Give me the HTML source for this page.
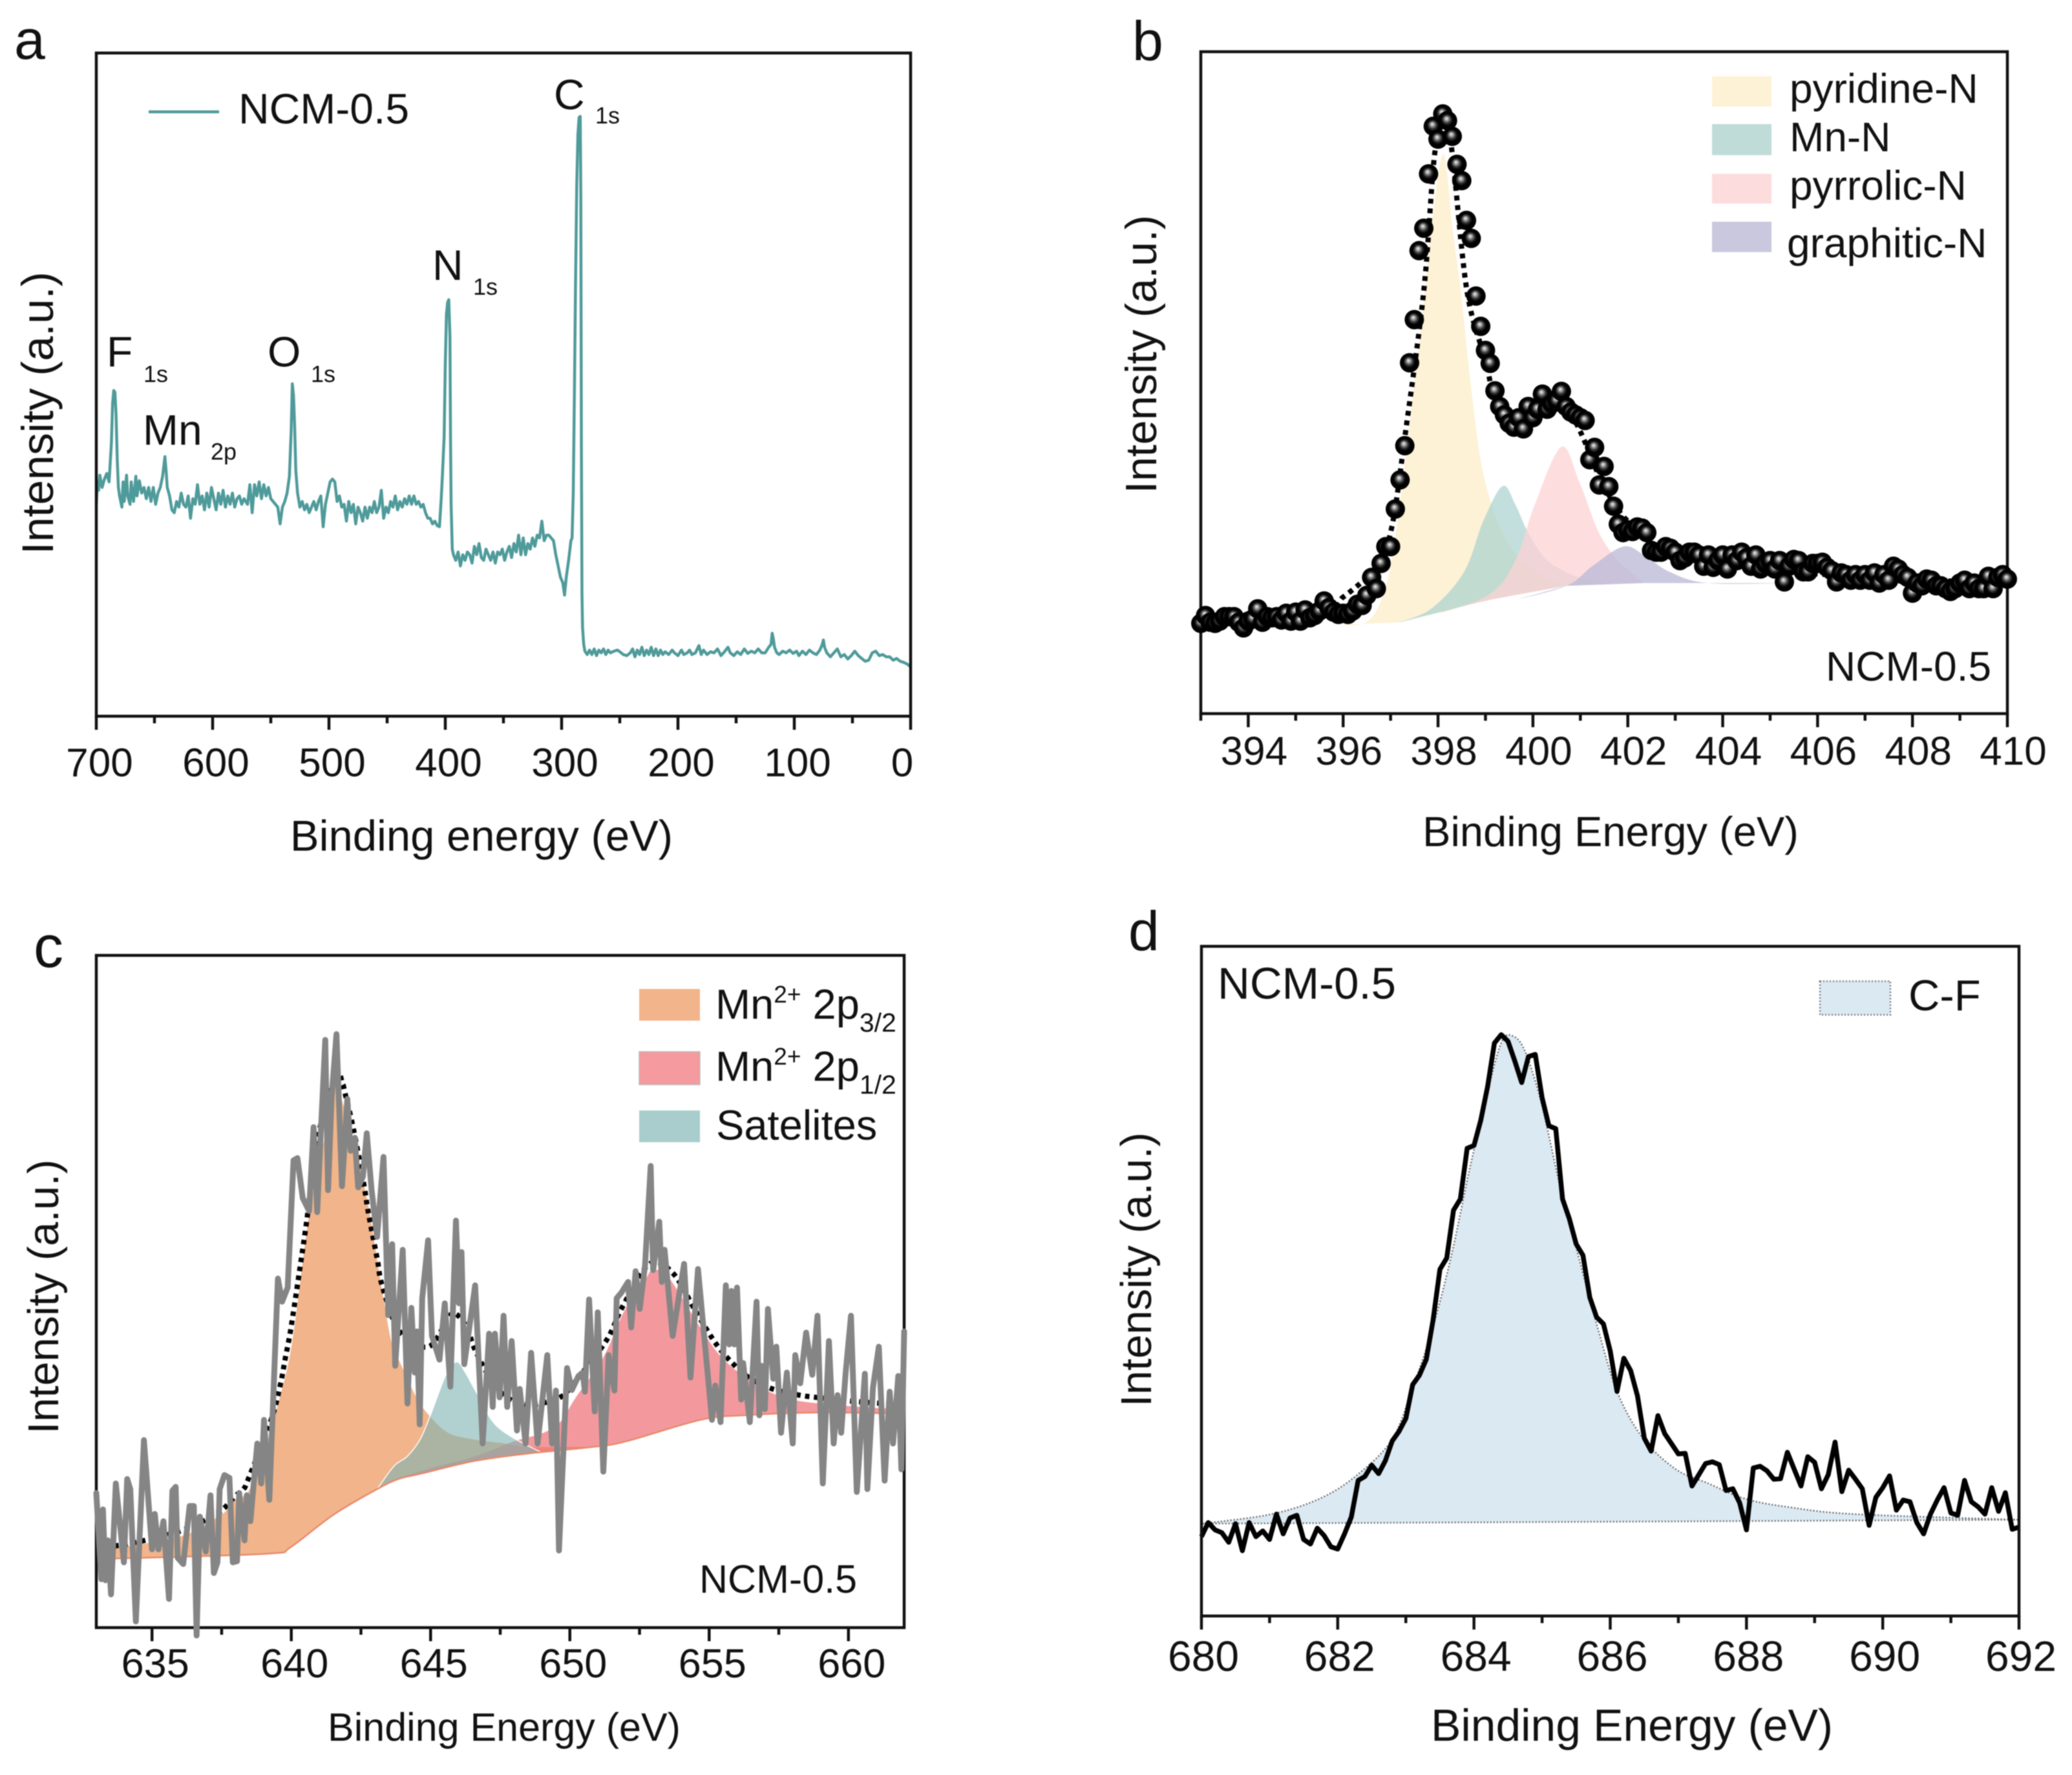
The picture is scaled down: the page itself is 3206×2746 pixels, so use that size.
<!DOCTYPE html>
<html lang="en">
<head>
<meta charset="utf-8">
<title>XPS spectra of NCM-0.5</title>
<style>
html,body{margin:0;padding:0;background:#fff;}
svg{display:block;filter:blur(0.7px);}
text{font-family:"Liberation Sans",Arial,sans-serif;fill:#111;}
</style>
</head>
<body>
<svg id="figure" xmlns="http://www.w3.org/2000/svg" width="3206" height="2746" viewBox="0 0 3206 2746">
  <defs>
    <radialGradient id="sphere" cx="50%" cy="50%" r="50%" fx="44%" fy="38%">
      <stop offset="0%" stop-color="#f2f2f2"/>
      <stop offset="16%" stop-color="#b0b0b0"/>
      <stop offset="42%" stop-color="#333"/>
      <stop offset="62%" stop-color="#000"/>
      <stop offset="100%" stop-color="#000"/>
    </radialGradient>
  </defs>
  <rect x="0" y="0" width="3206" height="2746" fill="#fff"/>
  <g id="layer-a"></g>
  <g id="layer-b"></g>
  <g id="layer-c"></g>
  <g id="layer-d"></g>

  <!-- panel letters -->
  <text x="22" y="91" font-size="86">a</text>
  <text x="1752" y="93" font-size="86">b</text>
  <text x="52" y="1496" font-size="92">c</text>
  <text x="1746" y="1470" font-size="86">d</text>

  <!-- panel a text -->
  <text x="745" y="1316" font-size="67" text-anchor="middle">Binding energy (eV)</text>
  <text transform="translate(82,639) rotate(-90)" font-size="69" text-anchor="middle">Intensity (a.u.)</text>
  <line x1="230" y1="173" x2="339" y2="173" stroke="#4f9a9a" stroke-width="4.5"/>
  <text x="369" y="191" font-size="66">NCM-0.5</text>
  <text x="857" y="169" font-size="66">C</text>
  <text x="921" y="191" font-size="36">1s</text>
  <text x="669" y="433" font-size="66">N</text>
  <text x="732" y="456" font-size="36">1s</text>
  <text x="414" y="567" font-size="66">O</text>
  <text x="481" y="591" font-size="36">1s</text>
  <text x="165" y="567" font-size="66">F</text>
  <text x="222" y="591" font-size="36">1s</text>
  <text x="221" y="688" font-size="66">Mn</text>
  <text x="326" y="711" font-size="36">2p</text>

  <!-- panel b text -->
  <text x="2492" y="1309" font-size="65" text-anchor="middle">Binding Energy (eV)</text>
  <text transform="translate(1789,548) rotate(-90)" font-size="68" text-anchor="middle">Intensity (a.u.)</text>
  <rect x="2649" y="118" width="92" height="47" fill="#fdf2d6"/>
  <rect x="2649" y="192" width="92" height="48" fill="#c0dcd9"/>
  <rect x="2649" y="269" width="92" height="46" fill="#fddcdd"/>
  <rect x="2649" y="343" width="92" height="47" fill="#c9c8de"/>
  <text x="2769" y="159" font-size="64">pyridine-N</text>
  <text x="2769" y="234" font-size="64">Mn-N</text>
  <text x="2769" y="309" font-size="64">pyrrolic-N</text>
  <text x="2765" y="398" font-size="64">graphitic-N</text>
  <text x="2825" y="1053" font-size="64">NCM-0.5</text>

  <!-- panel c text -->
  <text x="780" y="2693" font-size="61" text-anchor="middle">Binding Energy (eV)</text>
  <text transform="translate(90,2006) rotate(-90)" font-size="67" text-anchor="middle">Intensity (a.u.)</text>
  <rect x="989" y="1530" width="94" height="49" fill="#f2b48a"/>
  <rect x="989" y="1627" width="94" height="51" fill="#f59a9e" stroke="#bbb" stroke-width="1.5"/>
  <rect x="989" y="1718" width="94" height="49" fill="#a8cdcc"/>
  <text x="1107" y="1576" font-size="65">Mn<tspan font-size="37" dy="-25">2+</tspan><tspan dy="25"> 2p</tspan><tspan font-size="41" dy="20">3/2</tspan></text>
  <text x="1107" y="1672" font-size="65">Mn<tspan font-size="37" dy="-25">2+</tspan><tspan dy="25"> 2p</tspan><tspan font-size="41" dy="20">1/2</tspan></text>
  <text x="1108" y="1763" font-size="65">Satelites</text>
  <text x="1082" y="2464" font-size="61">NCM-0.5</text>

  <!-- panel d text -->
  <text x="2525" y="2693" font-size="69.5" text-anchor="middle">Binding Energy (eV)</text>
  <text transform="translate(1781,1964) rotate(-90)" font-size="67" text-anchor="middle">Intensity (a.u.)</text>
  <rect x="2816" y="1518" width="109" height="52" fill="#dbe9f3" stroke="#777" stroke-width="2.5" stroke-dasharray="2 3"/>
  <text x="2953" y="1563" font-size="67">C-F</text>
  <text x="1884" y="1545" font-size="69">NCM-0.5</text>
</svg>

<script>
// ---------- Panel a: survey spectrum ----------
const surveyEnergy = [700,699,698,697,695,693,691,689,687,686,685,684,683,682,681,680,678,677,676,674,673,671,670,668,666,665,663,661,659,657,655,653,651,649,647,645,643,641,640,639,637,635,633,631,629,627,625,623,621,619,617,615,613,611,609,607,605,603,601,599,597,595,593,591,589,587,585,583,581,579,577,575,573,570,568,566,564,562,560,558,556,554,552,550,548,546,544,542,540,538,536,534,532.5,531.5,530.5,529.5,528.5,527,525,523,521,519,517,515,513,511,509,507,505,503,501,499,497,495,493,491,489,487,485,483,481,479,477,475,473,471,469,467,465,463,461,459,457,455,453,451,449,447,445,443,441,439,437,435,433,431,429,427,425,423,421,419,417,415,413,411,409,407,405,403.5,402.5,401,400,399,398,397,396,395.5,395,394,393,391,389,387,385,383,381,379,377,375,373,371,369,367,365,363,361,359,357,355,353,351,349,347,345,343,341,339,337,335,333,331,329,327,325,323,321,319,317,315,313,311,309,307,305,303,301,299,297.5,296,294,292,291,290,289,288,287,286,285,284,283.5,283,282.5,282,281,280,278,276,274,272,270,268,266,264,262,260,258,255,252,250,247,244,241,239,237,235,233,231,229,227,225,223,221,219,217,215,213,211,208,205,203,200,197,195,192,190,188,185,182,180,178,175,172,169,166,163,160,157,155,152,149,146,143,140,137,134,131,128,125,122,120,119,118,117,115,113,110,107,104,101,98,96,93,90,87,84,81,78,76,75,74,72,69,66,63,60,57,54,51,48,45,42,39,36,33,30,27,24,21,18,15,12,9,6,3,0];
const surveyIntensity = [378,418,403,430,408,423,433,418,488,558,581,578,538,458,408,393,373,418,383,430,393,378,418,383,428,393,420,398,408,388,408,383,408,378,398,408,428,463,438,408,393,368,363,383,373,398,378,373,393,353,388,378,413,378,393,368,398,373,408,388,368,398,378,403,373,393,378,398,373,388,393,378,388,378,413,363,413,393,418,388,413,393,408,388,383,378,373,343,373,383,398,428,508,593,573,518,438,398,373,383,368,378,363,373,383,368,383,393,338,378,398,418,423,418,383,393,373,378,348,383,363,378,343,373,363,348,373,353,373,363,383,363,373,403,353,373,363,383,373,393,368,383,373,388,378,393,378,393,378,383,373,378,363,353,353,343,348,340,338,388,428,498,628,718,738,743,678,498,378,298,288,278,293,268,288,278,293,288,273,303,288,308,283,278,298,288,278,293,273,293,288,298,278,293,303,283,308,293,323,288,318,288,308,298,318,303,323,318,348,313,323,323,318,313,288,268,248,238,216,248,278,313,318,398,578,778,948,1038,1068,1070,928,478,218,158,128,116,110,118,110,120,108,118,113,120,110,118,113,116,118,115,110,108,113,120,106,118,110,123,108,118,110,123,108,120,108,118,110,115,110,118,113,108,118,110,113,118,110,113,126,110,118,110,115,113,120,108,115,123,113,108,115,110,120,112,116,113,120,113,113,123,128,148,138,123,113,110,116,113,118,112,116,108,116,110,118,113,110,118,128,136,123,113,106,113,120,106,110,102,108,116,108,103,98,100,113,116,108,110,106,106,100,103,98,96,93,88];
const surveyTicks = [700,600,500,400,300,200,100,0];
const surveyMinorTicks = [650,550,450,350,250,150,50];

// ---------- Panel b: N 1s ----------
const n1sEnergy = [393,393.1,393.2,393.3,393.4,393.5,393.6,393.7,393.8,393.9,394,394.1,394.2,394.3,394.4,394.5,394.6,394.7,394.8,394.9,395,395.1,395.2,395.3,395.4,395.5,395.6,395.7,395.8,395.9,396,396.1,396.2,396.3,396.4,396.5,396.6,396.7,396.8,396.9,397,397.1,397.2,397.3,397.4,397.5,397.6,397.7,397.8,397.9,398,398.1,398.2,398.3,398.4,398.5,398.6,398.7,398.8,398.9,399,399.1,399.2,399.3,399.4,399.5,399.6,399.7,399.8,399.9,400,400.1,400.2,400.3,400.4,400.5,400.6,400.7,400.8,400.9,401,401.1,401.2,401.3,401.4,401.5,401.6,401.7,401.8,401.9,402,402.1,402.2,402.3,402.4,402.5,402.6,402.7,402.8,402.9,403,403.1,403.2,403.3,403.4,403.5,403.6,403.7,403.8,403.9,404,404.1,404.2,404.3,404.4,404.5,404.6,404.7,404.8,404.9,405,405.1,405.2,405.3,405.4,405.5,405.6,405.7,405.8,405.9,406,406.1,406.2,406.3,406.4,406.5,406.6,406.7,406.8,406.9,407,407.1,407.2,407.3,407.4,407.5,407.6,407.7,407.8,407.9,408,408.1,408.2,408.3,408.4,408.5,408.6,408.7,408.8,408.9,409,409.1,409.2,409.3,409.4,409.5,409.6,409.7,409.8,409.9,410];
const n1sIntensity = [161,175,163,161,165,173,173,173,163,153,165,169,187,163,173,171,173,167,179,165,181,165,185,171,175,183,201,189,181,177,179,177,183,195,193,211,243,223,268,298,298,365,417,478,626,703,826,866,963,1048,1025,1070,1058,1030,980,951,880,848,745,691,648,625,576,548,533,518,511,528,508,548,528,543,570,543,553,558,575,548,538,533,528,523,453,475,408,441,405,370,338,323,328,325,333,331,323,291,288,288,298,295,288,273,278,288,288,283,263,283,261,273,283,258,283,273,288,278,263,283,258,268,273,258,273,235,263,275,273,253,253,268,268,270,261,255,235,251,248,238,248,238,248,238,251,233,248,238,263,258,248,243,215,233,228,240,238,228,228,223,218,223,233,238,223,233,223,223,245,223,243,248,240];
const n1sFitEnergy = [393,395.6,396,396.5,396.8,397.05,397.3,397.7,397.93,398.15,398.3,398.61,399,399.2,399.6,400.2,400.6,401,401.4,401.8,402.2,402.7,403.7,405,407,410];
const n1sFitIntensity = [163,188,208,243,273,343,493,754,999,1060,999,754,630,563,523,548,563,503,423,363,328,293,273,258,243,233];
const n1sBaseEnergy = [395.84,397.2,398.14,399.09,400.71,402.34,405.45];
const n1sBaseIntensity = [158,163,183,203,228,233,233];
const pyridineEnergy = [395.84,396.52,396.92,397.19,397.6,397.85,398.11,398.3,398.48,398.7,398.95,399.36,399.9,400.71];
const pyridineIntensity = [158,165,233,373,660,860,999,870,754,580,430,323,263,228];
const mnNEnergy = [397.19,397.87,398.55,398.95,399.36,399.63,399.9,400.31,400.98,401.66];
const mnNIntensity = [163,188,253,343,406,373,323,273,243,233];
const pyrrolicEnergy = [398.01,399.09,399.63,400.04,400.6,400.98,401.39,401.8,402.34];
const pyrrolicIntensity = [178,213,273,373,476,413,323,273,233];
const graphiticEnergy = [399.63,400.71,401.25,401.9,402.34,402.88,403.69,405.45];
const graphiticIntensity = [203,228,263,298,283,253,233,233];
const n1sTicks = [394,396,398,400,402,404,406,408,410];
const n1sMinorTicks = [393,395,397,399,401,403,405,407,409];

// ---------- Panel c: Mn 2p ----------
const mn2pEnergy = [633,633.18,633.24,633.33,633.41,633.53,633.7,633.99,634.11,634.22,634.42,634.71,635,635.1,635.23,635.41,635.61,635.73,635.85,635.92,636.12,636.35,636.5,636.6,636.72,636.93,637.1,637.22,637.35,637.43,637.6,637.78,637.9,638.05,638.13,638.32,638.4,638.53,638.78,638.92,639.02,639.21,639.52,639.67,639.87,640.08,640.22,640.41,640.64,640.8,640.93,641.07,641.22,641.32,641.45,641.62,641.82,642.01,642.13,642.28,642.4,642.57,642.71,642.88,643.08,643.31,643.48,643.62,643.73,644,644.17,644.31,644.43,644.51,644.61,644.7,644.91,645.05,645.32,645.51,645.71,645.91,646.02,646.11,646.21,646.6,646.87,647.1,647.23,647.31,647.48,647.62,647.75,647.91,648.1,648.2,648.41,648.61,648.84,649.19,649.36,649.5,649.61,649.9,650.07,650.31,650.46,650.54,650.69,650.89,651,651.2,651.39,651.6,651.68,651.85,652.09,652.2,652.36,652.51,652.7,652.9,652.99,653.21,653.3,653.4,653.69,654.1,654.33,654.6,655.1,655.22,655.41,655.6,655.72,655.8,655.9,656,656.15,656.22,656.46,656.7,656.8,656.88,657,657.11,657.3,657.41,657.58,657.79,658,658.09,658.27,658.48,658.7,658.89,659.08,659.3,659.47,659.61,659.74,659.9,660.09,660.3,660.59,660.68,660.88,661.09,661.3,661.48,661.6,661.79,661.9,662];
const mn2pIntensity = [239,86,210,84,155,59,256,116,264,246,11,333,139,202,139,189,51,243,250,124,113,216,216,-14,197,135,235,97,116,246,271,266,116,118,239,155,235,189,327,256,369,227,620,579,604,830,834,763,740,889,738,889,1044,777,943,1054,784,939,847,870,782,801,878,778,694,836,555,681,465,671,398,568,453,526,361,585,688,518,476,576,428,723,576,667,468,608,327,522,392,522,409,554,392,509,350,424,327,488,327,484,327,421,137,461,422,447,453,419,583,384,560,277,484,421,585,595,614,533,633,566,644,820,635,721,614,671,518,646,444,637,369,430,365,608,503,598,503,604,405,470,365,579,377,465,388,566,442,499,346,453,327,484,434,524,449,554,256,509,327,413,346,453,554,241,451,246,426,499,261,419,327,447,281,526];
const mn2pFitEnergy = [633,634.38,636.16,637.24,637.59,637.97,638.28,638.44,639.25,639.6,639.79,639.98,640.33,640.56,640.95,641.6,641.84,641.92,642.23,642.61,642.77,643.08,643.27,643.89,644.93,645.67,645.94,646.32,646.53,646.9,647.37,647.87,648.41,648.95,649.65,650.11,651.31,651.89,652.86,653.71,654.56,655.29,655.93,656.46,657.27,658.23,658.85,660.4,662];
const mn2pFitIntensity = [141,151,174,200,212,233,246,262,365,430,480,530,645,725,870,981,966,951,886,786,736,656,606,526,499,553,556,532,501,463,426,405,396,398,409,432,510,570,646,629,558,501,465,443,424,413,409,401,396];
const mn2pBaseEnergy = [633.01,636.12,639.36,639.98,641.53,643.08,643.85,644.62,646.58,648.47,650.84,652.03,654.68,656.22,658.93,661.99];
const mn2pBaseIntensity = [122,126,132,143,201,246,264,273,296,309,321,331,369,377,382,380];
const mn32Energy = [633,634.72,636.16,636.9,637.59,637.97,638.51,639.21,639.52,640.02,640.64,641.2,641.59,642.61,643.31,643.62,643.93,644.47,644.93,645.63,646.58,647.53,648.47,649.9,650.84];
const mn32Intensity = [136,149,164,183,204,227,246,342,396,503,733,870,962,786,583,503,468,411,378,346,334,328,321,321,321];
const mn12Energy = [643.26,644.92,646.58,648,649,649.65,650.19,651.2,651.97,652.74,652.94,653.5,654.68,655.45,656.46,657.15,658.16,660.4,662];
const mn12Intensity = [256,282,304,331,345,365,407,480,564,621,633,625,533,480,438,419,403,392,388];
const satEnergy = [643.08,643.69,644.16,644.62,645,645.55,645.94,646.25,646.63,647.25,648,648.95];
const satIntensity = [246,287,304,334,378,449,472,453,419,365,336,312];
const mn2pTicks = [635,640,645,650,655,660];
const mn2pMinorTicks = [637.5,642.5,647.5,652.5,657.5];

// ---------- Panel d: F 1s ----------
const f1sEnergy = [680,680.1,680.2,680.3,680.4,680.5,680.6,680.7,680.8,680.9,681,681.1,681.2,681.3,681.4,681.5,681.6,681.7,681.8,681.9,682,682.1,682.2,682.3,682.4,682.5,682.6,682.7,682.8,682.9,683,683.1,683.2,683.3,683.4,683.5,683.6,683.7,683.8,683.9,684,684.1,684.2,684.3,684.4,684.5,684.6,684.7,684.8,684.9,685,685.1,685.2,685.3,685.4,685.5,685.6,685.7,685.8,685.9,686,686.1,686.2,686.3,686.4,686.5,686.6,686.7,686.8,686.9,687,687.1,687.2,687.3,687.4,687.5,687.6,687.7,687.8,687.9,688,688.1,688.2,688.3,688.4,688.5,688.6,688.7,688.8,688.9,689,689.1,689.2,689.3,689.4,689.5,689.6,689.7,689.8,689.9,690,690.1,690.2,690.3,690.4,690.5,690.6,690.7,690.8,690.9,691,691.1,691.2,691.3,691.4,691.5,691.6,691.7,691.8,691.9,692];
const f1sIntensity = [141,166,153,148,131,164,116,166,141,151,136,181,146,174,179,136,128,156,143,123,119,146,176,241,248,268,253,276,311,328,351,411,428,456,526,616,636,721,741,831,836,881,941,1018,1033,1021,986,948,994,998,921,871,866,741,706,661,641,566,531,519,471,399,458,436,391,316,293,356,324,306,288,289,231,251,271,274,269,223,226,201,153,263,266,258,243,244,291,261,231,283,273,226,251,309,221,259,243,226,161,211,228,249,188,206,203,166,146,181,206,228,183,179,241,203,194,181,228,186,219,154,158];
const cfEnergy = [680,681.03,681.78,682.34,682.81,683.1,683.38,683.66,683.94,684.23,684.41,684.56,684.74,684.98,685.26,685.54,685.83,686.11,686.48,686.96,687.43,687.99,688.65,689.59,692];
const cfIntensity = [164,181,211,256,316,406,506,636,796,946,1021,1031,1006,916,766,636,506,396,316,261,236,208,193,181,171];
const cfBaseEnergy = [680,692];
const cfBaseIntensity = [163,171];
const f1sTicks = [680,682,684,686,688,690,692];
const f1sMinorTicks = [681,683,685,687,689,691];

// ---------- Axis functions ----------
function linearScale(d0, d1, r0, r1) {
  return function (v) { return r0 + (v - d0) / (d1 - d0) * (r1 - r0); };
}
const xA = linearScale(700, 0, 149, 1409);
const yA = linearScale(0, 1183, 1108, 82);
const xB = linearScale(393, 410, 1858, 3106);
const yB = linearScale(0, 1181, 1104, 80);
const xC = linearScale(633, 662, 149, 1399);
const yC = linearScale(0, 1194, 2518, 1478);
const xD = linearScale(680, 692, 1859, 3124);
const yD = linearScale(0, 1190, 2500, 1464);

const SVGNS = 'http://www.w3.org/2000/svg';
function make(parentId, tag, props) {
  const el = document.createElementNS(SVGNS, tag);
  for (const k in props) el.setAttribute(k, props[k]);
  document.getElementById(parentId).appendChild(el);
  return el;
}
function linePath(es, is, xf, yf) {
  return es.map(function (e, i) {
    return (i ? 'L' : 'M') + xf(e).toFixed(1) + ' ' + yf(is[i]).toFixed(1);
  }).join('');
}
function smoothPoints(es, is, xf, yf) {
  const p = es.map(function (e, i) { return [xf(e), yf(is[i])]; });
  let d = '';
  for (let i = 0; i < p.length - 1; i++) {
    const a = p[Math.max(i - 1, 0)], b = p[i], c = p[i + 1], e = p[Math.min(i + 2, p.length - 1)];
    const c1 = [b[0] + (c[0] - a[0]) / 6, b[1] + (c[1] - a[1]) / 6];
    const c2 = [c[0] - (e[0] - b[0]) / 6, c[1] - (e[1] - b[1]) / 6];
    d += 'C' + c1[0].toFixed(1) + ' ' + c1[1].toFixed(1) + ' ' + c2[0].toFixed(1) + ' ' + c2[1].toFixed(1) + ' ' + c[0].toFixed(1) + ' ' + c[1].toFixed(1);
  }
  return d;
}
function smoothPath(es, is, xf, yf) {
  return 'M' + xf(es[0]).toFixed(1) + ' ' + yf(is[0]).toFixed(1) + smoothPoints(es, is, xf, yf);
}
function areaPath(es, is, baseE, baseI, xf, yf) {
  let d = smoothPath(es, is, xf, yf);
  const lo = es[0], hi = es[es.length - 1];
  const backE = [], backI = [];
  for (let i = baseE.length - 1; i >= 0; i--) {
    if (baseE[i] > lo && baseE[i] < hi) { backE.push(baseE[i]); backI.push(baseI[i]); }
  }
  if (backE.length) {
    d += 'L' + xf(backE[0]).toFixed(1) + ' ' + yf(backI[0]).toFixed(1) + smoothPoints(backE, backI, xf, yf);
  }
  return d + 'Z';
}
function drawFrame(layer, x0, x1, y0, y1) {
  const r = make(layer, 'rect', {x: x0, y: y0, width: x1 - x0, height: y1 - y0, fill: 'none', stroke: '#111', 'stroke-width': 4.5});
  
  
}
function drawTicks(layer, xf, yBottom, majors, minors, labelY, fontSize, labelDx) {
  majors.forEach(function (v) {
    const t = make(layer, 'line', {x1: xf(v), x2: xf(v), y1: yBottom, y2: yBottom + 21, stroke: '#111', 'stroke-width': 4.5});
    
    
    const l = make(layer, 'text', {x: xf(v) + (v === 0 ? -13 : labelDx), y: labelY, 'font-size': fontSize, 'text-anchor': 'middle'});
    l.textContent = String(v);
    
    
  });
  minors.forEach(function (v) {
    const t = make(layer, 'line', {x1: xf(v), x2: xf(v), y1: yBottom, y2: yBottom + 11, stroke: '#111', 'stroke-width': 4.5});
    
    
  });
}

// ---------- Panel a ----------
const surveyLine = make('layer-a', 'path', {d: linePath(surveyEnergy, surveyIntensity, xA, yA), fill: 'none', stroke: '#4f9a9a', 'stroke-width': 4.5, 'stroke-linejoin': 'round'});


drawFrame('layer-a', 149, 1409, 82, 1108);
drawTicks('layer-a', xA, 1108, surveyTicks, surveyMinorTicks, 1201, 62, 5);

// ---------- Panel b ----------
const pyridineArea = make('layer-b', 'path', {d: areaPath(pyridineEnergy, pyridineIntensity, n1sBaseEnergy, n1sBaseIntensity, xB, yB), fill: '#fdf2d6'});


const mnNArea = make('layer-b', 'path', {d: areaPath(mnNEnergy, mnNIntensity, n1sBaseEnergy, n1sBaseIntensity, xB, yB), fill: '#a8d2cf', 'fill-opacity': 0.7});


const pyrrolicArea = make('layer-b', 'path', {d: areaPath(pyrrolicEnergy, pyrrolicIntensity, n1sBaseEnergy, n1sBaseIntensity, xB, yB), fill: '#fdd2d4', 'fill-opacity': 0.75});


const graphiticArea = make('layer-b', 'path', {d: areaPath(graphiticEnergy, graphiticIntensity, n1sBaseEnergy, n1sBaseIntensity, xB, yB), fill: '#bdbcd8', 'fill-opacity': 0.8});


const n1sFit = make('layer-b', 'path', {d: smoothPath(n1sFitEnergy, n1sFitIntensity, xB, yB), fill: 'none', stroke: '#000', 'stroke-width': 8, 'stroke-dasharray': '7.5 7.5'});


drawFrame('layer-b', 1858, 3106, 80, 1104);
drawTicks('layer-b', xB, 1104, n1sTicks, n1sMinorTicks, 1183, 62, 9);
n1sEnergy.forEach(function (e, i) {
  const c = make('layer-b', 'circle', {cx: xB(e), cy: yB(n1sIntensity[i]), r: 15, fill: 'url(#sphere)'});
  
  
});

// ---------- Panel c ----------
const mn32Area = make('layer-c', 'path', {d: areaPath(mn32Energy, mn32Intensity, mn2pBaseEnergy, mn2pBaseIntensity, xC, yC), fill: '#f2b48a'});


const mn12Area = make('layer-c', 'path', {d: areaPath(mn12Energy, mn12Intensity, mn2pBaseEnergy, mn2pBaseIntensity, xC, yC), fill: '#ee6d75', 'fill-opacity': 0.7});


const satArea = make('layer-c', 'path', {d: areaPath(satEnergy, satIntensity, mn2pBaseEnergy, mn2pBaseIntensity, xC, yC), fill: '#7fb5b3', 'fill-opacity': 0.62});


const satEdge = make('layer-c', 'path', {d: smoothPath(satEnergy, satIntensity, xC, yC), fill: 'none', stroke: '#fff', 'stroke-width': 1.5});


const mn2pBase = make('layer-c', 'path', {d: smoothPath(mn2pBaseEnergy, mn2pBaseIntensity, xC, yC), fill: 'none', stroke: '#e8896a', 'stroke-width': 2.5});


const mn2pFit = make('layer-c', 'path', {d: smoothPath(mn2pFitEnergy, mn2pFitIntensity, xC, yC), fill: 'none', stroke: '#000', 'stroke-width': 8, 'stroke-dasharray': '7 7'});


drawFrame('layer-c', 149, 1399, 1478, 2518);
drawTicks('layer-c', xC, 2518, mn2pTicks, mn2pMinorTicks, 2595, 63, 5);
const mn2pLine = make('layer-c', 'path', {d: linePath(mn2pEnergy, mn2pIntensity, xC, yC), fill: 'none', stroke: '#858585', 'stroke-width': 9, 'stroke-linejoin': 'round', 'stroke-linecap': 'round'});



// ---------- Panel d ----------
const cfArea = make('layer-d', 'path', {d: areaPath(cfEnergy, cfIntensity, cfBaseEnergy, cfBaseIntensity, xD, yD), fill: '#dbe9f3', stroke: '#666', 'stroke-width': 2.5, 'stroke-dasharray': '2 3'});


const f1sLine = make('layer-d', 'path', {d: linePath(f1sEnergy, f1sIntensity, xD, yD), fill: 'none', stroke: '#000', 'stroke-width': 7.5, 'stroke-linejoin': 'round'});


drawFrame('layer-d', 1859, 3124, 1464, 2500);
drawTicks('layer-d', xD, 2500, f1sTicks, f1sMinorTicks, 2585, 66, 3);
</script>
</body>
</html>
